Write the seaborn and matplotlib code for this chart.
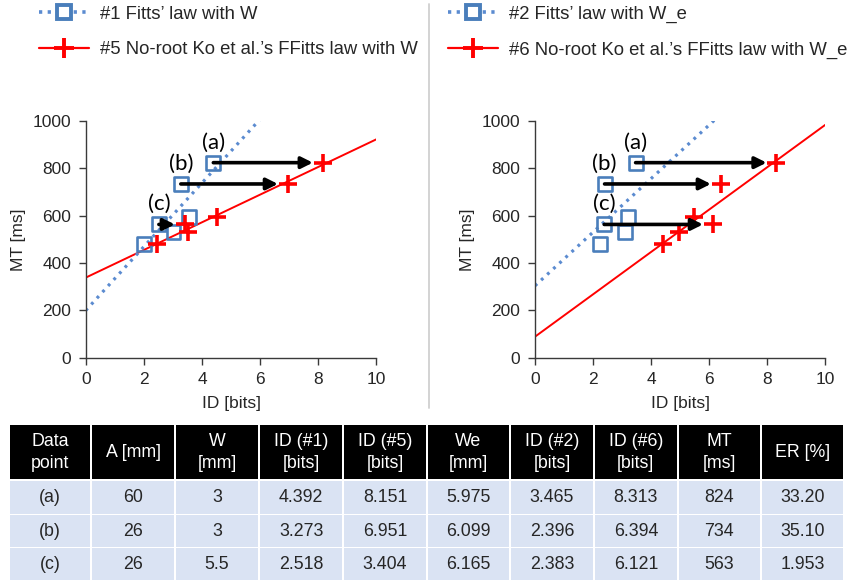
import numpy as np
import pandas as pd
import seaborn as sns
import matplotlib
matplotlib.use("Agg")
import matplotlib.pyplot as plt
from matplotlib.lines import Line2D
from matplotlib.patches import Rectangle

# ---- data ---------------------------------------------------------------
mt_ms = [480, 563, 530, 595, 734, 824]
# left panel: nominal width W
id_fitts_w = [2.01, 2.518, 3.02, 3.57, 3.273, 4.392]      # model #1
id_ffitts_w = [2.47, 3.404, 3.53, 4.53, 6.951, 8.151]     # model #5
# right panel: effective width W_e
id_fitts_we = [2.24, 2.383, 3.11, 3.21, 2.396, 3.465]     # model #2
id_ffitts_we = [4.42, 6.121, 4.95, 5.48, 6.394, 8.313]    # model #6

point_labels = ["(c)", "(b)", "(a)"]
point_index = [1, 4, 5]          # which samples are data points (c), (b), (a)

legend_left = ["#1 Fitts\u2019 law with W", "#5 No-root Ko et al.\u2019s FFitts law with W"]
legend_right = ["#2 Fitts\u2019 law with W_e", "#6 No-root Ko et al.\u2019s FFitts law with W_e"]

table_header = ["Data\npoint", "A [mm]", "W\n[mm]", "ID (#1)\n[bits]", "ID (#5)\n[bits]",
                "We\n[mm]", "ID (#2)\n[bits]", "ID (#6)\n[bits]", "MT\n[ms]", "ER [%]"]
table_rows = [
    ["(a)", "60", "3", "4.392", "8.151", "5.975", "3.465", "8.313", "824", "33.20"],
    ["(b)", "26", "3", "3.273", "6.951", "6.099", "2.396", "6.394", "734", "35.10"],
    ["(c)", "26", "5.5", "2.518", "3.404", "6.165", "2.383", "6.121", "563", "1.953"],
]

# ---- style ----------------------------------------------------------------
sns.set_theme(style="white")
plt.rcParams["font.family"] = ["Liberation Sans", "DejaVu Sans"]

BLUE_MK = "#4A7EBB"
BLUE_LN = "#5B8BD0"
RED = "#FF0000"
AXC = "#3A3A3A"

W_PX, H_PX = 847, 580
fig = plt.figure(figsize=(W_PX / 100, H_PX / 100), dpi=100)


def fig_rect(x0, y0, x1, y1):
    """pixel box (top-left origin) -> figure fraction rect"""
    return [x0 / W_PX, 1 - y1 / H_PX, (x1 - x0) / W_PX, (y1 - y0) / H_PX]


ax_l = fig.add_axes(fig_rect(85.7, 121, 376.3, 357.7))
ax_r = fig.add_axes(fig_rect(535, 121, 825.3, 357.7))


def draw_panel(ax, id_fitts, id_ffitts):
    df = pd.DataFrame({"fitts": id_fitts, "ffitts": id_ffitts, "mt": mt_ms})
    xs = np.array([0.0, 10.0])
    # least-squares trendlines through each model's points
    b1, a1 = np.polyfit(df["fitts"], df["mt"], 1)
    b2, a2 = np.polyfit(df["ffitts"], df["mt"], 1)
    sns.lineplot(x=xs, y=a2 + b2 * xs, ax=ax, color=RED, lw=1.4, zorder=2)
    sns.lineplot(x=xs, y=a1 + b1 * xs, ax=ax, color=BLUE_LN, lw=2.3,
                 linestyle=(0, (0.9, 1.7)), zorder=2)
    sns.scatterplot(data=df, x="fitts", y="mt", ax=ax, marker="s", s=100,
                    facecolor="none", edgecolor=BLUE_MK, linewidth=1.9, zorder=3)
    sns.scatterplot(data=df, x="ffitts", y="mt", ax=ax, marker="+", s=175,
                    color=RED, linewidth=2.6, zorder=4)
    for lab, i in zip(point_labels, point_index):
        ax.annotate("", xy=(df["ffitts"][i], df["mt"][i]),
                    xytext=(df["fitts"][i], df["mt"][i]),
                    arrowprops=dict(arrowstyle="-|>", color="black", lw=2.6,
                                    shrinkA=0, shrinkB=7, mutation_scale=17),
                    zorder=5)
        ax.annotate(lab, xy=(df["fitts"][i], df["mt"][i]), xytext=(0, 14.5),
                    textcoords="offset points", ha="center", va="center",
                    fontsize=16, family=["Lato", "DejaVu Sans"], color="black")
    ax.set_xlim(0, 10)
    ax.set_ylim(0, 1000)
    ax.set_xticks(range(0, 11, 2))
    ax.set_yticks(range(0, 1001, 200))
    ax.set_xlabel("ID [bits]", fontsize=12.5, labelpad=6)
    ax.set_ylabel("MT [ms]", fontsize=12.5, labelpad=5)
    ax.tick_params(axis="both", labelsize=12.5, length=5, width=1, color=AXC,
                   direction="out", pad=5.5, bottom=True, left=True)
    for side in ("top", "right"):
        ax.spines[side].set_visible(False)
    for side in ("left", "bottom"):
        ax.spines[side].set_color(AXC)
        ax.spines[side].set_linewidth(1.0)
    ax.set_facecolor("white")


draw_panel(ax_l, id_fitts_w, id_ffitts_w)
draw_panel(ax_r, id_fitts_we, id_ffitts_we)

# ---- legends --------------------------------------------------------------
def handles():
    h1 = Line2D([0], [0], color=BLUE_LN, lw=2.6, linestyle=(0, (0.9, 1.5)),
                marker="s", ms=10, mfc="white", mec=BLUE_MK, mew=2.8)
    h2 = Line2D([0], [0], color=RED, lw=1.6, marker="+", ms=15, mec=RED, mew=2.8)
    return [h1, h2]


for labels, x0 in ((legend_left, 38), (legend_right, 447)):
    fig.legend(handles(), labels, loc="upper left",
               bbox_to_anchor=((x0 - 1) / W_PX, 1 - 4 / H_PX),
               frameon=False, fontsize=13.3, handlelength=2.7, handletextpad=0.6,
               labelspacing=1.0, borderaxespad=0, borderpad=0.1)

# separator between panels
fig.add_artist(Line2D([429 / W_PX, 429 / W_PX], [1 - 4 / H_PX, 1 - 408 / H_PX],
                      color="#D0D0D0", lw=1.3, transform=fig.transFigure))

# ---- table ----------------------------------------------------------------
ax_t = fig.add_axes([0, 0, 1, 160 / H_PX])
ax_t.set_xlim(0, W_PX)
ax_t.set_ylim(580, 420)
ax_t.axis("off")

col_edges = [9, 91.3, 175, 259, 343.3, 426.7, 510, 594, 677.7, 760.7, 844]
row_edges = [(425, 479), (481, 513.5), (515, 546.5), (548, 579.5)]

for r, (y0, y1) in enumerate(row_edges):
    cells = table_header if r == 0 else table_rows[r - 1]
    for c, txt in enumerate(cells):
        x0, x1 = col_edges[c], col_edges[c + 1]
        ax_t.add_patch(Rectangle((x0 + 1, y0), x1 - x0 - 2, y1 - y0,
                                 facecolor="black" if r == 0 else "#DAE3F3",
                                 edgecolor="none"))
        ax_t.text((x0 + x1) / 2, (y0 + y1) / 2 + 0.5, txt, ha="center", va="center",
                  fontsize=12.8, linespacing=1.32,
                  color="white" if r == 0 else "#262626")

fig.savefig("out.png", dpi=100, facecolor="white")
